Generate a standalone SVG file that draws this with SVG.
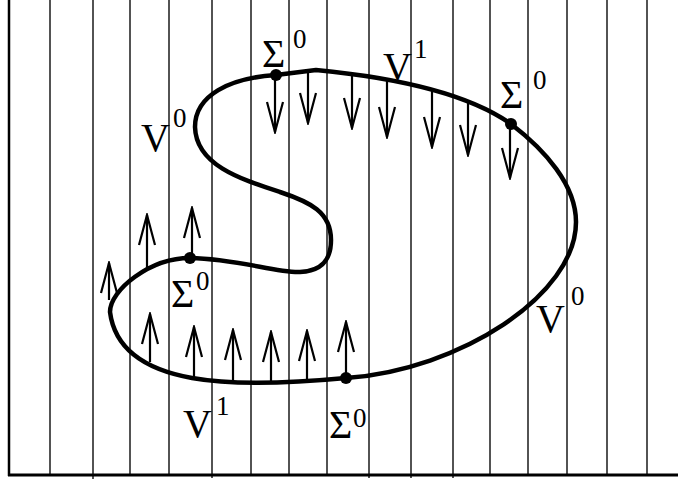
<svg xmlns="http://www.w3.org/2000/svg" width="678" height="483" viewBox="0 0 678 483">
<style>
.grid{stroke:#1a1a1a;stroke-width:1.5;fill:none}
.curve{stroke:#000;stroke-width:4.5;fill:none;stroke-linejoin:round}
.arr{stroke:#000;stroke-width:2.2;fill:none;marker-end:url(#ah)}
.big{font-family:"Liberation Serif","Times New Roman",serif;font-size:40px;fill:#000}
.sup{font-family:"Liberation Serif","Times New Roman",serif;font-size:27px;fill:#000}
</style>
<defs>
<marker id="ah" markerUnits="userSpaceOnUse" viewBox="-2 -2 34 20" markerWidth="34" markerHeight="20" refX="30" refY="8" orient="auto">
<path d="M0,0 L30,8 L0,16" fill="none" stroke="#000" stroke-width="2.2"/>
</marker>
</defs>
<rect width="678" height="483" fill="#fff"/>
<g id="grid">
<line class="grid" x1="50" y1="0" x2="50" y2="476"/>
<line class="grid" x1="93" y1="0" x2="93" y2="479"/>
<line class="grid" x1="130" y1="0" x2="130" y2="476"/>
<line class="grid" x1="169" y1="0" x2="169" y2="476"/>
<line class="grid" x1="212" y1="0" x2="212" y2="478"/>
<line class="grid" x1="251" y1="0" x2="251" y2="476"/>
<line class="grid" x1="289" y1="0" x2="289" y2="476"/>
<line class="grid" x1="327" y1="0" x2="327" y2="476" stroke-width="2"/>
<line class="grid" x1="369" y1="0" x2="369" y2="478"/>
<line class="grid" x1="411" y1="0" x2="411" y2="478"/>
<line class="grid" x1="453" y1="0" x2="453" y2="478"/>
<line class="grid" x1="490" y1="0" x2="490" y2="476"/>
<line class="grid" x1="528" y1="0" x2="528" y2="476"/>
<line class="grid" x1="567" y1="0" x2="567" y2="476"/>
<line class="grid" x1="607" y1="0" x2="607" y2="476"/>
<line class="grid" x1="647" y1="0" x2="647" y2="476"/>
<line x1="9" y1="0" x2="9" y2="476" stroke="#000" stroke-width="2.5"/>
<line x1="8" y1="475" x2="678" y2="475" stroke="#000" stroke-width="3"/>
</g>
<g id="curve">
<path class="curve" d="M316,70 C400,78 470,95 511,124 C545,150 576,185 576,222 C576,295 460,370 346,378 C240,388 120,390 110,312 C110,290 150,258 190,258 C240,259 275,273 300,272 C322,271 331,260 331,240 C331,212 310,202 280,192 C240,179 196,165 195,127 C195,95 230,78 276,75 Z"/>
</g>
<g id="connectors">
<line class="arr" x1="275" y1="76" x2="275" y2="132"/>
<line class="arr" x1="308" y1="71" x2="308" y2="123"/>
<line class="arr" x1="352" y1="74" x2="352" y2="128"/>
<line class="arr" x1="387" y1="80" x2="387" y2="137"/>
<line class="arr" x1="432" y1="89" x2="432" y2="147"/>
<line class="arr" x1="468" y1="100" x2="468" y2="155"/>
<line class="arr" x1="510" y1="124" x2="510" y2="178"/>
<line class="arr" x1="109" y1="300" x2="109" y2="263"/>
<line class="arr" x1="147" y1="268" x2="147" y2="215"/>
<line class="arr" x1="192" y1="258" x2="192" y2="208"/>
<line class="arr" x1="150" y1="362" x2="150" y2="314"/>
<line class="arr" x1="194" y1="378" x2="194" y2="327"/>
<line class="arr" x1="233" y1="381" x2="233" y2="330"/>
<line class="arr" x1="271" y1="382" x2="271" y2="332"/>
<line class="arr" x1="307" y1="381" x2="307" y2="331"/>
<line class="arr" x1="346" y1="378" x2="346" y2="322"/>
</g>
<g id="dots">
<circle cx="276" cy="75" r="6"/>
<circle cx="511" cy="124" r="6"/>
<circle cx="190" cy="258" r="6"/>
<circle cx="346" cy="378" r="6"/>
</g>
<g id="label-sigma-top"><text class="big" x="262" y="67">Σ</text><text class="sup" x="293" y="48">0</text></g>
<g id="label-v0-left"><text class="big" x="141" y="151">V</text><text class="sup" x="173" y="127">0</text></g>
<g id="label-v1-top"><text class="big" x="383" y="80">V</text><text class="sup" x="414" y="58">1</text></g>
<g id="label-sigma-right"><text class="big" x="500" y="108">Σ</text><text class="sup" x="533" y="89">0</text></g>
<g id="label-sigma-mid"><text class="big" x="171" y="307">Σ</text><text class="sup" x="196" y="290">0</text></g>
<g id="label-v0-right"><text class="big" x="536" y="332">V</text><text class="sup" x="571" y="305">0</text></g>
<g id="label-v1-bottom"><text class="big" x="183" y="437">V</text><text class="sup" x="216" y="415">1</text></g>
<g id="label-sigma-bottom"><text class="big" x="329" y="438">Σ</text><text class="sup" x="353" y="427">0</text></g>
</svg>
